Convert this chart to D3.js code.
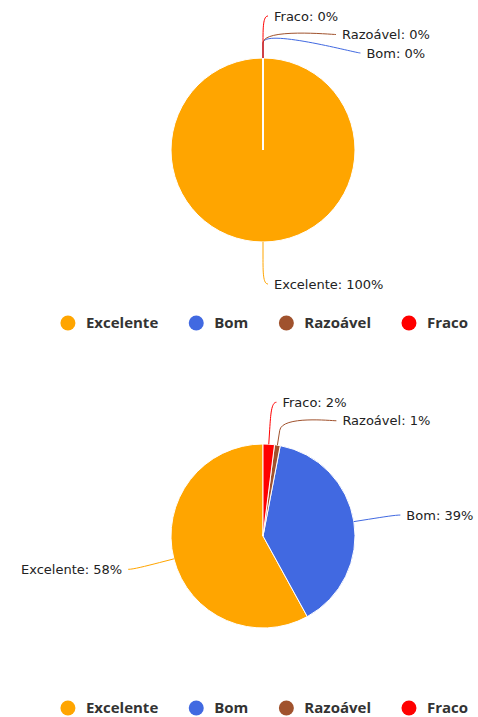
<!DOCTYPE html>
<html>
<head>
<meta charset="utf-8">
<script src="https://cdn.jsdelivr.net/npm/d3@7"></script>
<style>
  body { margin: 0; background: #fff; }
  .lbl { font-family: "DejaVu Sans", Verdana, sans-serif; font-size: 13px; fill: #222; }
  .leg { font-family: "Open Sans", sans-serif; font-size: 15px; font-weight: bold; fill: #333; }
</style>
</head>
<body>
<div id="chart"></div>
<script>
var categories = ["Excelente", "Bom", "Razoável", "Fraco"];
var colors = ["#FFA500", "#4169E1", "#A0522D", "#FF0000"];
var valuesTop = [100, 0, 0, 0];
var valuesBottom = [58, 39, 1, 2];

(function(){
    var width = 478,
        height = 717,
        radius = 92,
        labelR = 134,
        cx = 263;

    var svg = d3.select("#chart")
        .append("svg")
        .attr("width", width)
        .attr("height", height)

    var pie = d3.pie()
        .sort(null)
        .startAngle(0)
        .endAngle(-2 * Math.PI)   // counter-clockwise, like the original

    var arc = d3.arc().innerRadius(0).outerRadius(radius);

    drawPie(valuesTop, 150, 323);
    drawPie(valuesBottom, 536, 708);

    function drawPie(values, cy, legendY) {
        var total = d3.sum(values);
        var data = values.map(function(v, i){
            return { name: categories[i], color: colors[i], value: v };
        });
        var arcs = pie.value(function(d){ return d.value; })(data);

        var g = svg.append("g")
            .attr("transform", "translate(" + cx + "," + cy + ")")

        g.selectAll(".slice")
            .data(arcs)
            .enter().append("path")
            .attr("class", "slice")
            .attr("d", arc)
            .attr("fill", function(d){ return d.data.color; })
            .attr("stroke", "#fff")
            .attr("stroke-width", 1)
            .attr("stroke-linejoin", "round")

        // label positions
        var labels = arcs.map(function(d, i){
            var mid = (d.startAngle + d.endAngle) / 2;
            var sx = Math.sin(mid), sy = -Math.cos(mid);
            return {
                d: d, i: i, mid: mid,
                right: sx >= -1e-9,
                y: labelR * sy,
                edge: [radius * sx, radius * sy],
                brk: [(radius + 15) * sx, (radius + 15) * sy]
            };
        });

        [true, false].forEach(function(side){
            var s = labels.filter(function(l){ return l.right === side; });
            s.sort(function(a, b){ return (a.y - b.y) || (b.i - a.i); });
            for (var k = 1; k < s.length; k++) {
                if (s[k].y < s[k-1].y + 18.5) s[k].y = s[k-1].y + 18.5;
            }
        });

        labels.forEach(function(l){
            var dx = Math.sqrt(Math.max(0, labelR * labelR - l.y * l.y)) + 5;
            l.x = l.right ? dx : -dx;
        });

        g.selectAll(".conn")
            .data(labels)
            .enter().append("path")
            .attr("class", "conn")
            .attr("fill", "none")
            .attr("stroke", function(l){ return l.d.data.color; })
            .attr("stroke-width", 1)
            .attr("d", function(l){
                var c1 = l.x + (l.right ? -5 : 5);
                return "M" + l.x + "," + l.y +
                    "C" + c1 + "," + l.y + "," +
                    (2 * l.brk[0] - l.edge[0]) + "," + (2 * l.brk[1] - l.edge[1]) + "," +
                    l.brk[0] + "," + l.brk[1] +
                    "L" + l.edge[0] + "," + l.edge[1];
            })

        g.selectAll(".lbl")
            .data(labels)
            .enter().append("text")
            .attr("class", "lbl")
            .attr("x", function(l){ return l.x + (l.right ? 6 : -6); })
            .attr("y", function(l){ return l.y; })
            .attr("dy", "0.35em")
            .attr("text-anchor", function(l){ return l.right ? "start" : "end"; })
            .text(function(l){
                return l.d.data.name + ": " + Math.round(l.d.data.value / total * 100) + "%";
            })

        // legend
        var leg = svg.append("g")
            .attr("transform", "translate(0," + legendY + ")")

        var items = leg.selectAll(".item")
            .data(data)
            .enter().append("g")
            .attr("class", "item")

        items.append("circle")
            .attr("r", 7.5)
            .attr("fill", function(d){ return d.color; })

        items.append("text")
            .attr("class", "leg")
            .attr("x", 18)
            .attr("dy", "0.36em")
            .text(function(d){ return d.name; })

        var pos = [], x = 0;
        items.each(function(d){
            var w = this.querySelector("text").getComputedTextLength();
            pos.push(x);
            x += 18 + w + 38;
        });
        var span = x - 38 + 8;
        var start = cx + 1 - span / 2 + 8;
        items.attr("transform", function(d, i){
            return "translate(" + (start + pos[i]) + ",0)";
        })
    }
})();
</script>
</body>
</html>
